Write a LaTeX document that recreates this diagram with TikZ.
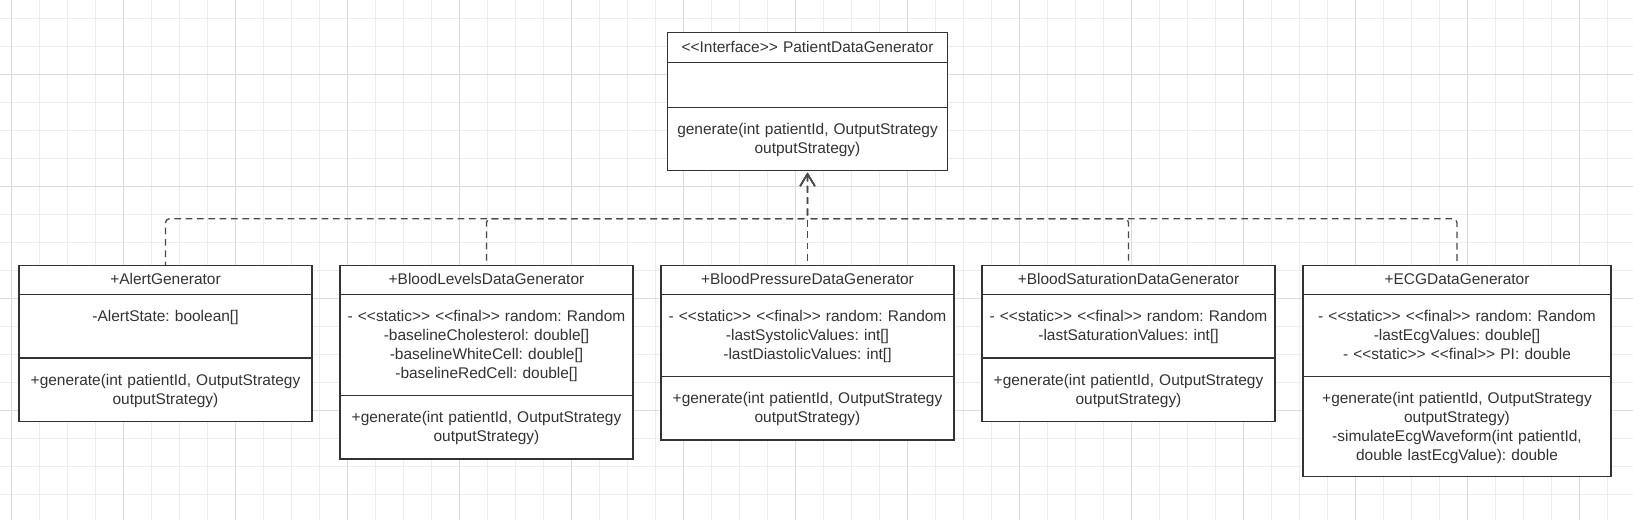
\documentclass[tikz,border=0pt]{standalone}
\usepackage{fontspec}
\newfontfamily\umlfont{Liberation Sans}
\usepackage{xcolor}
\usepackage{tikz}
\usetikzlibrary{arrows.meta}
\usetikzlibrary{positioning}

\definecolor{linec}{HTML}{333333}
\definecolor{txtc}{HTML}{333333}
\definecolor{depc}{HTML}{4A4A4A}
\definecolor{gridmin}{HTML}{EDEDED}
\definecolor{gridmaj}{HTML}{DCDCDC}

\begin{document}
\begin{tikzpicture}[x=0.75pt,y=-0.75pt,node distance=21pt,
    font=\umlfont\fontsize{11.6pt}{14.25pt}\selectfont\frenchspacing]
	\tikzstyle{ctitle}=[draw=linec, fill=white, line width=1pt, text=txtc, inner sep=0pt, outer sep=0pt, align=center, text width=219.75pt, text height=14pt, text depth=7.8pt]
	\tikzstyle{csec}=[draw=linec, fill=white, line width=1pt, text=txtc, inner sep=0pt, outer sep=0pt, align=center, text width=219.75pt, text height=20.6pt]
	\tikzstyle{dep}=[draw=depc, line width=1pt, dash pattern=on 5pt off 3.5pt, rounded corners=3pt, shorten <=1.5pt, {Straight Barb[length=9pt,width=11pt]}-]
	\useasboundingbox (0,0) rectangle (1633,520);
	\fill[white] (0,0) rectangle (1633,520);
	% background grid
	\foreach \k in {0,...,57}
		\draw[gridmin, line width=0.75pt] (11.5+28*\k,0) -- (11.5+28*\k,520);
	\foreach \k in {0,...,17}
		\draw[gridmin, line width=0.75pt] (0,18.3+28*\k) -- (1633,18.3+28*\k);
	\foreach \k in {0,...,14}
		\draw[gridmaj, line width=0.75pt] (11.5+112*\k,0) -- (11.5+112*\k,520);
	\foreach \k in {0,...,3}
		\draw[gridmaj, line width=0.75pt] (0,74.3+112*\k) -- (1633,74.3+112*\k);

	% interface
	\node[ctitle, text width=210pt, text height=14.8pt, anchor=north] (gen) at (807.5,32.3) {<<Interface>> PatientDataGenerator};
	\node[csec, text width=210pt, text depth=13pt, below=0pt of gen] (gen-a) {};
	\node[csec, text width=210pt, text depth=27pt, below=0pt of gen-a] (gen-m) {generate(int patientId, OutputStrategy\\ outputStrategy)};

	% generators
	\node[ctitle, anchor=north west] (alert) at (19,265.4) {+AlertGenerator};
	\node[csec, text depth=27pt, below=0pt of alert] (alert-a) {-AlertState: boolean[]};
	\node[csec, text depth=27pt, below=0pt of alert-a] (alert-m) {+generate(int patientId, OutputStrategy\\ outputStrategy)};

	\node[ctitle] (levels) [right=of alert] {+BloodLevelsDataGenerator};
	\node[csec, text depth=55.15pt, below=0pt of levels] (levels-a) {- <<static>> <<final>> random: Random\\ -baselineCholesterol: double[]\\ -baselineWhiteCell: double[]\\ -baselineRedCell: double[]};
	\node[csec, text depth=27pt, below=0pt of levels-a] (levels-m) {+generate(int patientId, OutputStrategy\\ outputStrategy)};

	\node[ctitle] (pressure) [right=of levels] {+BloodPressureDataGenerator};
	\node[csec, text depth=40.9pt, below=0pt of pressure] (pressure-a) {- <<static>> <<final>> random: Random\\ -lastSystolicValues: int[]\\ -lastDiastolicValues: int[]};
	\node[csec, text depth=27pt, below=0pt of pressure-a] (pressure-m) {+generate(int patientId, OutputStrategy\\ outputStrategy)};

	\node[ctitle] (saturation) [right=of pressure] {+BloodSaturationDataGenerator};
	\node[csec, text depth=27pt, below=0pt of saturation] (saturation-a) {- <<static>> <<final>> random: Random\\ -lastSaturationValues: int[]};
	\node[csec, text depth=27pt, below=0pt of saturation-a] (saturation-m) {+generate(int patientId, OutputStrategy\\ outputStrategy)};

	\node[ctitle, text width=231pt] (ecg) [right=of saturation] {+ECGDataGenerator};
	\node[csec, text width=231pt, text depth=40.9pt, below=0pt of ecg] (ecg-a) {- <<static>> <<final>> random: Random\\ -lastEcgValues: double[]\\ - <<static>> <<final>> PI: double};
	\node[csec, text width=231pt, text depth=54.4pt, below=0pt of ecg-a] (ecg-m) {+generate(int patientId, OutputStrategy\\ outputStrategy)\\ -simulateEcgWaveform(int patientId,\\ double lastEcgValue): double};

	% realization arrows
	\coordinate (bus) at (807.5,218.7);
	\draw[dep] (gen-m) -- (bus) -| (alert);
	\draw[dep] (gen-m) -- (bus) -| (levels);
	\draw[dep] (gen-m) -- (pressure);
	\draw[dep] (gen-m) -- (bus) -| (saturation);
	\draw[dep] (gen-m) -- (bus) -| (ecg);
\end{tikzpicture}
\end{document}
